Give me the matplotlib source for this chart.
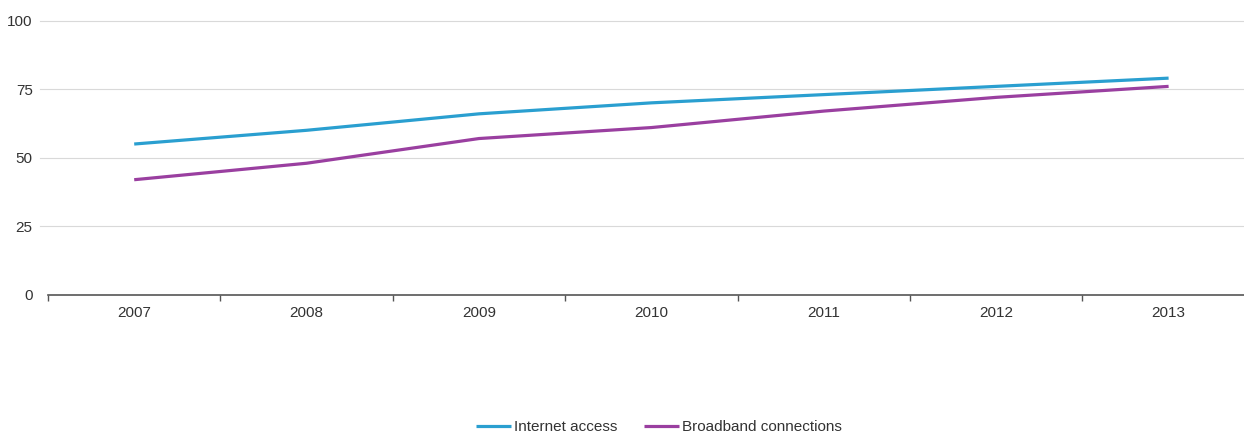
import matplotlib
matplotlib.use('Agg')
import matplotlib.pyplot as plt
import numpy as np

plt.rcParams['font.family'] = ['Liberation Sans', 'DejaVu Sans']
plt.rcParams['font.size'] = 11

years = ['2007', '2008', '2009', '2010', '2011', '2012', '2013']
internet_access = [55, 60, 66, 70, 73, 76, 79]
broadband = [42, 48, 57, 61, 67, 72, 76]
y_ticks = [0, 25, 50, 75, 100]

BLUE = '#2a9fd0'
PURPLE = '#9a3fa0'

fig = plt.figure(figsize=(12.44, 4.34), dpi=100)
ax = fig.add_axes([48 / 1244, (434 - 295) / 434, 1 - 48 / 1244, (295 - 20.5) / 434])

x = np.arange(len(years))
ax.plot(x, internet_access, color=BLUE, linewidth=2.3, label='Internet access',
        solid_capstyle='butt', zorder=3)
ax.plot(x, broadband, color=PURPLE, linewidth=2.3, label='Broadband connections',
        solid_capstyle='butt', zorder=3)

ax.set_ylim(0, 100)
ax.set_xlim(-0.5, -0.5 + (1244 - 48) / 172.4)

for v in y_ticks[1:]:
    ax.axhline(v, xmin=-8 / 1196, xmax=1, color='#d9d9d9', linewidth=0.8,
               clip_on=False, zorder=1)

for side in ['top', 'right', 'left']:
    ax.spines[side].set_visible(False)
ax.spines['bottom'].set_color('#555555')
ax.spines['bottom'].set_linewidth(1.2)

ax.set_xticks(x)
ax.set_xticklabels(years)
ax.set_xticks(np.arange(len(years)) - 0.5, minor=True)
ax.tick_params(axis='x', which='major', length=0, pad=8, labelcolor='#333333')
ax.tick_params(axis='x', which='minor', length=4, width=1, color='#555555')

ax.set_yticks(y_ticks)
ax.tick_params(axis='y', length=0, pad=11, labelcolor='#333333')

fig.legend(loc='center', bbox_to_anchor=(659 / 1244, 7 / 434), ncol=2,
           frameon=False, handlelength=2.3, handletextpad=0.2,
           columnspacing=1.7, fontsize=11, labelcolor='#333333')

fig.savefig('out.png', dpi=100)
